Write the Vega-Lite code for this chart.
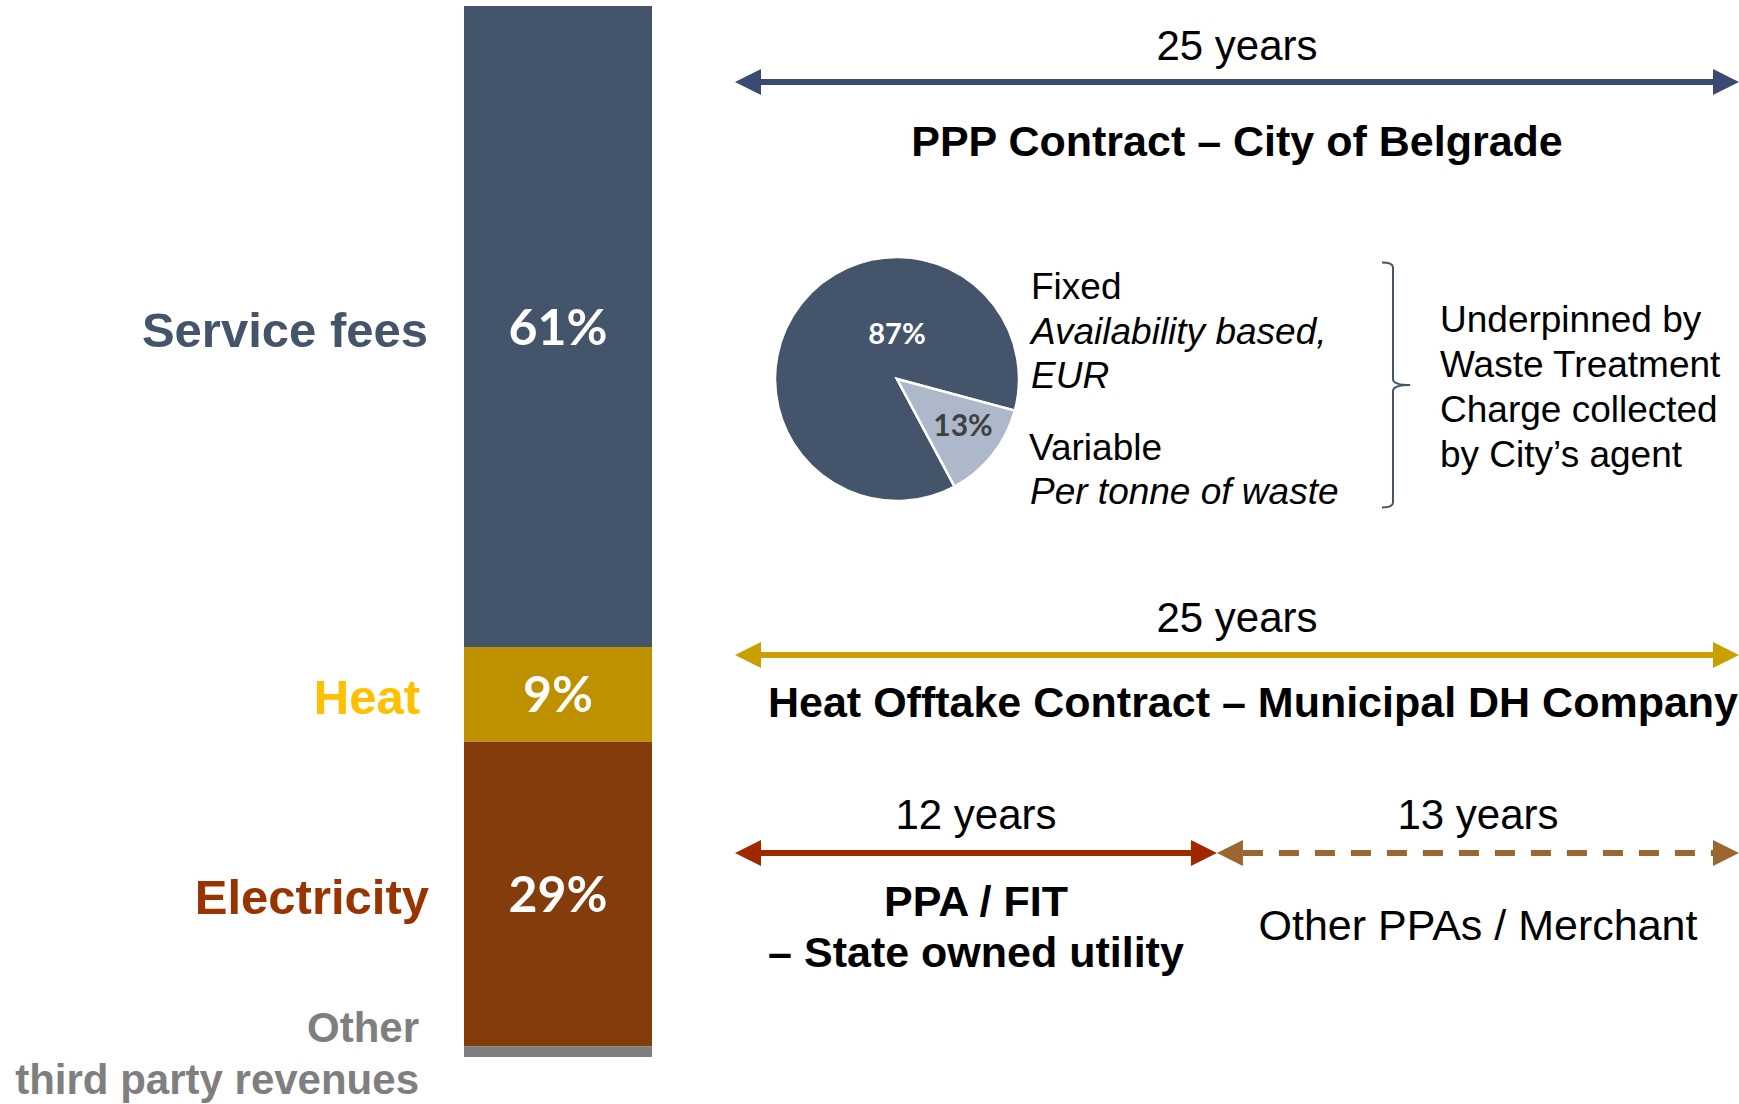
{
  "$schema": "https://vega.github.io/schema/vega-lite/v6.json",
  "width": 1739,
  "height": 1104,
  "padding": 0,
  "autosize": "none",
  "background": "white",
  "config": {"view": {"stroke": null}, "text": {"font": "Liberation Sans", "color": "#000000"}},
  "resolve": {"scale": {"x": "independent", "y": "independent", "color": "independent", "theta": "independent"}},
  "layer": [
    {
      "data": {"values": [
        {"group": "Revenue", "category": "Service fees", "share": 0.61, "rank": 4},
        {"group": "Revenue", "category": "Heat", "share": 0.09, "rank": 3},
        {"group": "Revenue", "category": "Electricity", "share": 0.29, "rank": 2},
        {"group": "Revenue", "category": "Other\nthird party revenues", "share": 0.01, "rank": 1}
      ]},
      "transform": [
        {"stack": "share", "groupby": ["group"], "sort": [{"field": "rank", "order": "ascending"}], "as": ["y0", "y1"]},
        {"calculate": "(datum.y0 + datum.y1) / 2", "as": "ymid"}
      ],
      "encoding": {
        "x": {"field": "group", "type": "nominal", "scale": {"range": [464, 652], "paddingInner": 0, "paddingOuter": 0}, "axis": null},
        "y": {"field": "ymid", "type": "quantitative", "scale": {"domain": [0, 1], "range": [1057, 6], "nice": false, "zero": false}, "axis": null}
      },
      "layer": [
        {
          "mark": {"type": "bar"},
          "encoding": {
            "y": {"field": "y1", "type": "quantitative"},
            "y2": {"field": "y0"},
            "color": {"field": "category", "type": "nominal", "legend": null,
              "scale": {"domain": ["Service fees", "Heat", "Electricity", "Other\nthird party revenues"], "range": ["#44546A", "#BF9000", "#843C0C", "#7F7F7F"]}}
          }
        },
        {
          "transform": [{"filter": "datum.share >= 0.05"}],
          "mark": {"type": "text", "font": "Lato", "fontWeight": "bold", "fontSize": 50, "color": "#FFFFFF", "baseline": "middle", "align": "center", "dy": 3},
          "encoding": {"text": {"field": "share", "format": ".0%"}}
        },
        {
          "transform": [{"filter": "datum.category === 'Service fees'"}],
          "mark": {"type": "text", "fontWeight": "bold", "fontSize": 49, "color": "#44546A", "baseline": "middle", "align": "right", "dx": -36, "dy": 5},
          "encoding": {"x": {"field": "group", "type": "nominal", "bandPosition": 0}, "text": {"field": "category"}}
        },
        {
          "transform": [{"filter": "datum.category === 'Heat'"}],
          "mark": {"type": "text", "fontWeight": "bold", "fontSize": 49, "color": "#FFC000", "baseline": "middle", "align": "right", "dx": -44, "dy": 5},
          "encoding": {"x": {"field": "group", "type": "nominal", "bandPosition": 0}, "text": {"field": "category"}}
        },
        {
          "transform": [{"filter": "datum.category === 'Electricity'"}],
          "mark": {"type": "text", "fontWeight": "bold", "fontSize": 49, "color": "#993300", "baseline": "middle", "align": "right", "dx": -35, "dy": 5},
          "encoding": {"x": {"field": "group", "type": "nominal", "bandPosition": 0}, "text": {"field": "category"}}
        },
        {
          "transform": [{"filter": "datum.rank === 1"}],
          "mark": {"type": "text", "fontWeight": "bold", "fontSize": 42, "lineHeight": 52, "lineBreak": "\n", "color": "#7F7F7F", "baseline": "middle", "align": "right", "dx": -45, "dy": -23},
          "encoding": {"x": {"field": "group", "type": "nominal", "bandPosition": 0}, "text": {"field": "category"}}
        }
      ]
    },
    {
      "data": {"values": [
        {"part": "Fixed", "share": 0.87, "rank": 2},
        {"part": "Variable", "share": 0.13, "rank": 1}
      ]},
      "layer": [
        {
          "mark": {"type": "arc", "outerRadius": 122, "stroke": "#FFFFFF", "strokeWidth": 2.5},
          "encoding": {
            "theta": {"field": "share", "type": "quantitative", "scale": {"range": [1.833, 8.116]}},
            "order": {"field": "rank", "type": "quantitative"},
            "color": {"field": "part", "type": "nominal", "legend": null, "scale": {"domain": ["Fixed", "Variable"], "range": ["#44546A", "#ADB9CA"]}},
            "x": {"value": 897},
            "y": {"value": 379}
          }
        },
        {
          "transform": [{"filter": "datum.part === 'Fixed'"}],
          "mark": {"type": "text", "font": "Lato", "fontWeight": "bold", "fontSize": 29, "color": "#FFFFFF", "baseline": "middle", "align": "center"},
          "encoding": {"text": {"field": "share", "format": ".0%"}, "x": {"value": 897}, "y": {"value": 335}}
        },
        {
          "transform": [{"filter": "datum.part === 'Variable'"}],
          "mark": {"type": "text", "font": "Lato", "fontWeight": "bold", "fontSize": 30, "color": "#404040", "baseline": "middle", "align": "center"},
          "encoding": {"text": {"field": "share", "format": ".0%"}, "x": {"value": 963}, "y": {"value": 427}}
        }
      ]
    },
    {
      "data": {"values": [{"note": "Fixed"}]},
      "mark": {"type": "text", "fontSize": 37, "align": "left", "baseline": "middle"},
      "encoding": {"text": {"field": "note"}, "x": {"value": 1031}, "y": {"value": 288}}
    },
    {
      "data": {"values": [{"note": "Availability based,\nEUR"}]},
      "mark": {"type": "text", "fontSize": 37, "fontStyle": "italic", "lineBreak": "\n", "lineHeight": 44, "align": "left", "baseline": "middle"},
      "encoding": {"text": {"field": "note"}, "x": {"value": 1031}, "y": {"value": 333}}
    },
    {
      "data": {"values": [{"note": "Variable"}]},
      "mark": {"type": "text", "fontSize": 37, "align": "left", "baseline": "middle"},
      "encoding": {"text": {"field": "note"}, "x": {"value": 1029}, "y": {"value": 449}}
    },
    {
      "data": {"values": [{"note": "Per tonne of waste"}]},
      "mark": {"type": "text", "fontSize": 37, "fontStyle": "italic", "align": "left", "baseline": "middle"},
      "encoding": {"text": {"field": "note"}, "x": {"value": 1030}, "y": {"value": 493}}
    },
    {
      "data": {"values": [{"note": "Underpinned by\nWaste Treatment\nCharge collected\nby City’s agent"}]},
      "mark": {"type": "text", "fontSize": 37, "lineBreak": "\n", "lineHeight": 45, "align": "left", "baseline": "middle"},
      "encoding": {"text": {"field": "note"}, "x": {"value": 1440}, "y": {"value": 321}}
    },
    {
      "data": {"values": [{"note": "brace"}]},
      "mark": {"type": "point", "shape": "M-0.09,-1Q0,-1 0,-0.96L0,-0.05Q0,0 0.14,0Q0,0 0,0.05L0,0.96Q0,1 -0.09,1", "size": 60025, "filled": false, "opacity": 1, "color": "#44546A", "strokeWidth": 2},
      "encoding": {"x": {"value": 1393}, "y": {"value": 385}}
    },
    {
      "data": {"values": [
        {"lane": "PPP", "start": 0, "end": 25, "duration": "25 years", "title": "PPP Contract – City of Belgrade"},
        {"lane": "Heat", "start": 0, "end": 25, "duration": "25 years", "title": "Heat Offtake Contract – Municipal DH Company"},
        {"lane": "PPA", "start": 0, "end": 12, "duration": "12 years", "title": "PPA / FIT\n– State owned utility"},
        {"lane": "Merchant", "start": 12, "end": 25, "duration": "13 years", "title": "Other PPAs / Merchant"}
      ]},
      "transform": [{"calculate": "(datum.start + datum.end) / 2", "as": "mid"}],
      "encoding": {
        "x": {"field": "start", "type": "quantitative", "scale": {"domain": [0, 25], "range": [735, 1739], "nice": false, "zero": false}, "axis": null}
      },
      "layer": [
        {
          "transform": [{"filter": "datum.lane === 'PPP'"}],
          "encoding": {"y": {"value": 82}},
          "layer": [
            {"mark": {"type": "rule", "color": "#3B4A73", "strokeWidth": 6, "xOffset": 20, "x2Offset": -20}, "encoding": {"x": {"field": "start", "type": "quantitative"}, "x2": {"field": "end"}}},
            {"mark": {"type": "point", "shape": "M0,0L2,-1L2,1Z", "size": 676, "filled": true, "opacity": 1, "strokeWidth": 0, "color": "#3B4A73"}, "encoding": {"x": {"field": "start", "type": "quantitative"}}},
            {"mark": {"type": "point", "shape": "M0,0L-2,-1L-2,1Z", "size": 676, "filled": true, "opacity": 1, "strokeWidth": 0, "color": "#3B4A73"}, "encoding": {"x": {"field": "end", "type": "quantitative"}}},
            {"mark": {"type": "text", "fontSize": 42, "dy": -35, "align": "center", "baseline": "middle"}, "encoding": {"x": {"field": "mid", "type": "quantitative"}, "text": {"field": "duration"}}},
            {"mark": {"type": "text", "fontSize": 43, "fontWeight": "bold", "dy": 61, "align": "center", "baseline": "middle"}, "encoding": {"x": {"field": "mid", "type": "quantitative"}, "text": {"field": "title"}}}
          ]
        },
        {
          "transform": [{"filter": "datum.lane === 'Heat'"}],
          "encoding": {"y": {"value": 655}},
          "layer": [
            {"mark": {"type": "rule", "color": "#C9A000", "strokeWidth": 6, "xOffset": 20, "x2Offset": -20}, "encoding": {"x": {"field": "start", "type": "quantitative"}, "x2": {"field": "end"}}},
            {"mark": {"type": "point", "shape": "M0,0L2,-1L2,1Z", "size": 676, "filled": true, "opacity": 1, "strokeWidth": 0, "color": "#C9A000"}, "encoding": {"x": {"field": "start", "type": "quantitative"}}},
            {"mark": {"type": "point", "shape": "M0,0L-2,-1L-2,1Z", "size": 676, "filled": true, "opacity": 1, "strokeWidth": 0, "color": "#C9A000"}, "encoding": {"x": {"field": "end", "type": "quantitative"}}},
            {"mark": {"type": "text", "fontSize": 42, "dy": -36, "align": "center", "baseline": "middle"}, "encoding": {"x": {"field": "mid", "type": "quantitative"}, "text": {"field": "duration"}}},
            {"mark": {"type": "text", "fontSize": 43, "fontWeight": "bold", "dy": 49, "dx": 16, "align": "center", "baseline": "middle"}, "encoding": {"x": {"field": "mid", "type": "quantitative"}, "text": {"field": "title"}}}
          ]
        },
        {
          "transform": [{"filter": "datum.lane === 'PPA'"}],
          "encoding": {"y": {"value": 853}},
          "layer": [
            {"mark": {"type": "rule", "color": "#A02800", "strokeWidth": 6, "xOffset": 20, "x2Offset": -20}, "encoding": {"x": {"field": "start", "type": "quantitative"}, "x2": {"field": "end"}}},
            {"mark": {"type": "point", "shape": "M0,0L2,-1L2,1Z", "size": 676, "filled": true, "opacity": 1, "strokeWidth": 0, "color": "#A02800"}, "encoding": {"x": {"field": "start", "type": "quantitative"}}},
            {"mark": {"type": "point", "shape": "M0,0L-2,-1L-2,1Z", "size": 676, "filled": true, "opacity": 1, "strokeWidth": 0, "color": "#A02800"}, "encoding": {"x": {"field": "end", "type": "quantitative"}}},
            {"mark": {"type": "text", "fontSize": 42, "dy": -37, "align": "center", "baseline": "middle"}, "encoding": {"x": {"field": "mid", "type": "quantitative"}, "text": {"field": "duration"}}},
            {"mark": {"type": "text", "fontSize": 43, "fontWeight": "bold", "lineBreak": "\n", "lineHeight": 51, "dy": 50, "align": "center", "baseline": "middle"}, "encoding": {"x": {"field": "mid", "type": "quantitative"}, "text": {"field": "title"}}}
          ]
        },
        {
          "transform": [{"filter": "datum.lane === 'Merchant'"}],
          "encoding": {"y": {"value": 853}},
          "layer": [
            {"mark": {"type": "rule", "color": "#9C6632", "strokeWidth": 6, "strokeDash": [20, 16], "strokeCap": "butt", "xOffset": 26, "x2Offset": -20}, "encoding": {"x": {"field": "start", "type": "quantitative"}, "x2": {"field": "end"}}},
            {"mark": {"type": "point", "shape": "M0,0L2,-1L2,1Z", "size": 676, "filled": true, "opacity": 1, "strokeWidth": 0, "color": "#9C6632"}, "encoding": {"x": {"field": "start", "type": "quantitative"}}},
            {"mark": {"type": "point", "shape": "M0,0L-2,-1L-2,1Z", "size": 676, "filled": true, "opacity": 1, "strokeWidth": 0, "color": "#9C6632"}, "encoding": {"x": {"field": "end", "type": "quantitative"}}},
            {"mark": {"type": "text", "fontSize": 42, "dy": -37, "align": "center", "baseline": "middle"}, "encoding": {"x": {"field": "mid", "type": "quantitative"}, "text": {"field": "duration"}}},
            {"mark": {"type": "text", "fontSize": 43, "dy": 74, "align": "center", "baseline": "middle"}, "encoding": {"x": {"field": "mid", "type": "quantitative"}, "text": {"field": "title"}}}
          ]
        }
      ]
    }
  ]
}
